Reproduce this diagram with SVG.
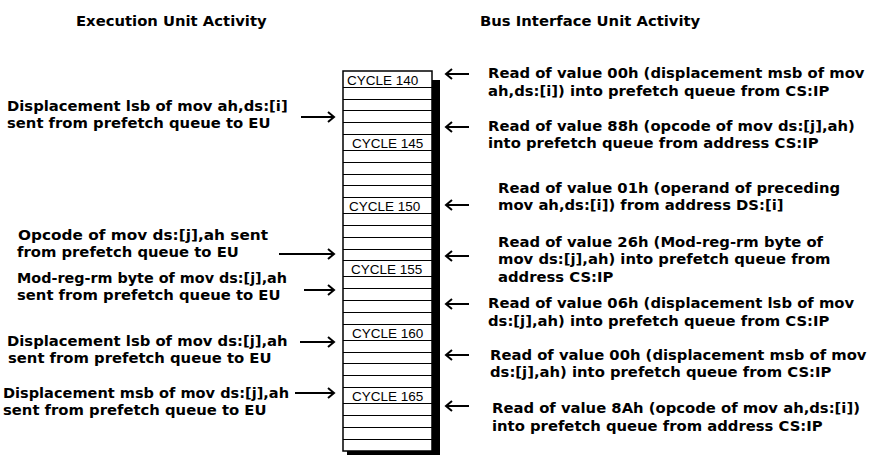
<svg xmlns="http://www.w3.org/2000/svg" width="878" height="455" viewBox="0 0 878 455">
<defs>
<style>
.t{font-family:"DejaVu Sans","Verdana",sans-serif;font-weight:bold;font-size:14.8px;fill:#000}
.c{font-family:"Liberation Sans",Arial,sans-serif;font-size:13.5px;fill:#000}
.ar{fill:none;stroke:#000;stroke-width:2}
</style>
</defs>
<rect width="878" height="455" fill="#fff"/>
<g id="header-eu"><text class="t" x="76" y="26">Execution Unit Activity</text></g>
<g id="header-biu"><text class="t" x="480" y="26">Bus Interface Unit Activity</text></g>
<g id="timeline">
<rect x="347" y="80" width="93" height="380" fill="#000"/>
<rect x="343" y="71" width="89" height="380" fill="#fff" stroke="#000" stroke-width="1.5"/>
<path fill="none" stroke="#000" stroke-width="1" d="M343 87.5H432M343 99.5H432M343 110.5H432M343 122.5H432M343 134.5H432M343 150.5H432M343 162.5H432M343 174.5H432M343 185.5H432M343 197.5H432M343 213.5H432M343 225.5H432M343 237.5H432M343 249.5H432M343 260.5H432M343 276.5H432M343 288.5H432M343 300.5H432M343 312.5H432M343 324.5H432M343 340.5H432M343 352.5H432M343 363.5H432M343 375.5H432M343 387.5H432M343 403.5H432M343 415.5H432M343 427.5H432M343 439.5H432"/>
<text class="c" x="347" y="84.5">CYCLE 140</text>
<text class="c" x="352" y="147.8">CYCLE 145</text>
<text class="c" x="349" y="211">CYCLE 150</text>
<text class="c" x="351" y="274.4">CYCLE 155</text>
<text class="c" x="352" y="337.7">CYCLE 160</text>
<text class="c" x="352" y="401">CYCLE 165</text>
</g>
<g id="eu-1"><text class="t" x="7" y="111">Displacement lsb of mov ah,ds:[i]</text><text class="t" x="7" y="127.5">sent from prefetch queue to EU</text></g>
<g id="eu-2"><text class="t" x="18" y="240" textLength="250" lengthAdjust="spacingAndGlyphs">Opcode of mov ds:[j],ah sent</text><text class="t" x="17" y="256.5">from prefetch queue to EU</text></g>
<g id="eu-3"><text class="t" x="17" y="283" textLength="270" lengthAdjust="spacingAndGlyphs">Mod-reg-rm byte of mov ds:[j],ah</text><text class="t" x="17" y="299.5">sent from prefetch queue to EU</text></g>
<g id="eu-4"><text class="t" x="7" y="346">Displacement lsb of mov ds:[j],ah</text><text class="t" x="8" y="362.5">sent from prefetch queue to EU</text></g>
<g id="eu-5"><text class="t" x="3" y="398" textLength="286" lengthAdjust="spacingAndGlyphs">Displacement msb of mov ds:[j],ah</text><text class="t" x="3" y="414.5">sent from prefetch queue to EU</text></g>
<g id="biu-1"><text class="t" x="488" y="78">Read of value 00h (displacement msb of mov</text><text class="t" x="488" y="95.5">ah,ds:[i]) into prefetch queue from CS:IP</text></g>
<g id="biu-2"><text class="t" x="488" y="130.5">Read of value 88h (opcode of mov ds:[j],ah)</text><text class="t" x="488" y="148">into prefetch queue from address CS:IP</text></g>
<g id="biu-3"><text class="t" x="498" y="192.5">Read of value 01h (operand of preceding</text><text class="t" x="498" y="210">mov ah,ds:[i]) from address DS:[i]</text></g>
<g id="biu-4"><text class="t" x="498" y="246.5">Read of value 26h (Mod-reg-rm byte of</text><text class="t" x="498" y="264">mov ds:[j],ah) into prefetch queue from</text><text class="t" x="498" y="281.5">address CS:IP</text></g>
<g id="biu-5"><text class="t" x="488" y="308">Read of value 06h (displacement lsb of mov</text><text class="t" x="488" y="325.5">ds:[j],ah) into prefetch queue from CS:IP</text></g>
<g id="biu-6"><text class="t" x="490" y="359.5">Read of value 00h (displacement msb of mov</text><text class="t" x="490" y="377">ds:[j],ah) into prefetch queue from CS:IP</text></g>
<g id="biu-7"><text class="t" x="492" y="413">Read of value 8Ah (opcode of mov ah,ds:[i])</text><text class="t" x="492" y="430.5">into prefetch queue from address CS:IP</text></g>
<g id="connectors">
<path class="ar" d="M301 117H334M328 112L334 117L328 122"/>
<path class="ar" d="M279 254H334M328 249L334 254L328 259"/>
<path class="ar" d="M304 290H334M328 285L334 290L328 295"/>
<path class="ar" d="M300 342H334M328 337L334 342L328 347"/>
<path class="ar" d="M295 393H334M328 388L334 393L328 398"/>
<path class="ar" d="M469 74H446M452 69L446 74L452 79"/>
<path class="ar" d="M469 127H446M452 122L446 127L452 132"/>
<path class="ar" d="M469 205H446M452 200L446 205L452 210"/>
<path class="ar" d="M469 256H446M452 251L446 256L452 261"/>
<path class="ar" d="M469 304H446M452 299L446 304L452 309"/>
<path class="ar" d="M469 355H446M452 350L446 355L452 360"/>
<path class="ar" d="M469 406H446M452 401L446 406L452 411"/>
</g>
</svg>
